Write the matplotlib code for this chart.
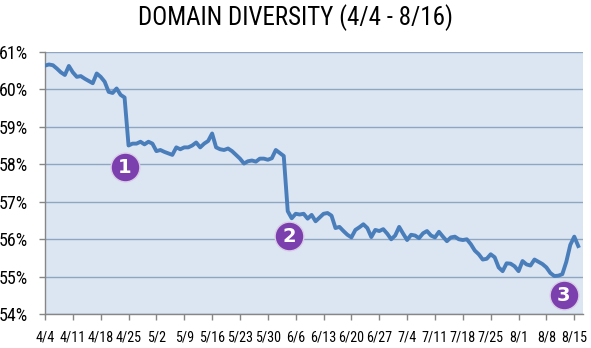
import matplotlib
matplotlib.use("Agg")
import matplotlib.pyplot as plt
from matplotlib import font_manager

# pick a narrow font if one is there
names = {f.name for f in font_manager.fontManager.ttflist}
font = "DejaVu Sans"
for cand in ["Liberation Sans Narrow", "DejaVu Sans Condensed", "Roboto Condensed"]:
    if cand in names:
        font = cand
        break
plt.rcParams["font.family"] = [font, "DejaVu Sans"]

title = "DOMAIN DIVERSITY (4/4 - 8/16)"

# daily share (%), 4/4 .. 8/16
diversity = [
    60.63, 60.66, 60.64, 60.55, 60.45, 60.38, 60.62, 60.45, 60.33, 60.35,
    60.28, 60.22, 60.16, 60.42, 60.33, 60.20, 59.93, 59.90, 60.02, 59.85,
    59.78, 58.50, 58.55, 58.55, 58.60, 58.53, 58.60, 58.55, 58.35, 58.38,
    58.33, 58.29, 58.25, 58.45, 58.40, 58.45, 58.45, 58.50, 58.58, 58.45,
    58.55, 58.62, 58.82, 58.45, 58.40, 58.38, 58.42, 58.35, 58.25, 58.15,
    58.02, 58.08, 58.10, 58.07, 58.15, 58.15, 58.12, 58.16, 58.38, 58.30,
    58.22, 56.75, 56.56, 56.68, 56.66, 56.68, 56.55, 56.65, 56.48, 56.58,
    56.68, 56.70, 56.63, 56.30, 56.33, 56.22, 56.12, 56.05, 56.25, 56.32,
    56.40, 56.30, 56.06, 56.25, 56.22, 56.27, 56.15, 56.00, 56.10, 56.33,
    56.15, 55.98, 56.12, 56.10, 56.03, 56.16, 56.22, 56.10, 56.05, 56.20,
    56.07, 55.95, 56.05, 56.07, 56.00, 55.98, 56.00, 55.87, 55.70, 55.60,
    55.46, 55.48, 55.60, 55.52, 55.25, 55.15, 55.36, 55.35, 55.28, 55.15,
    55.42, 55.33, 55.30, 55.46, 55.40, 55.34, 55.25, 55.10, 55.02, 55.03,
    55.07, 55.40, 55.85, 56.07, 55.82,
]
days = list(range(len(diversity)))

xtick_labels = ["4/4", "4/11", "4/18", "4/25", "5/2", "5/9", "5/16", "5/23",
                "5/30", "6/6", "6/13", "6/20", "6/27", "7/4", "7/11", "7/18",
                "7/25", "8/1", "8/8", "8/15"]
yticks = [54, 55, 56, 57, 58, 59, 60, 61]

# numbered callouts: (day, value, label)
markers_day = [20, 61.3, 130.3]
markers_val = [57.93, 56.1, 54.52]
markers_txt = ["1", "2", "3"]

fig = plt.figure(figsize=(5.91, 3.48), dpi=100)
ax = fig.add_axes([0.0761, 0.0968, 0.9104, 0.7546])
ax.set_facecolor("#dce6f2")

for y in yticks:
    ax.axhline(y, color="#8fa5c0", lw=1.0, zorder=1)

ax.plot(days, diversity, color="#4a7ebb", lw=2.8, zorder=3,
        solid_joinstyle="round")

ax.scatter(markers_day, markers_val, s=430, color="#7c3fae",
           edgecolors="#d9cce6", linewidths=1.0, zorder=4, clip_on=False)
for d, v, t in zip(markers_day, markers_val, markers_txt):
    ax.text(d, v - 0.02, t, color="white", fontsize=14, fontweight="bold",
            ha="center", va="center", zorder=5, family="DejaVu Sans")

ax.set_xlim(0, 135.2)
ax.set_ylim(54, 61)
ax.set_xticks(range(0, 7 * len(xtick_labels), 7))
ax.set_xticklabels(xtick_labels)
ax.set_yticks(yticks)
ax.set_yticklabels([f"{y}%" for y in yticks])

for s in ["top", "right"]:
    ax.spines[s].set_visible(False)
for s in ["left", "bottom"]:
    ax.spines[s].set_color("#868686")
    ax.spines[s].set_linewidth(1.0)
ax.tick_params(axis="both", colors="#868686", labelcolor="black",
               length=4, width=1.0)
ax.tick_params(axis="y", labelsize=13, pad=8)
ax.tick_params(axis="x", labelsize=10.2, pad=8)

fig.text(0.5, 0.95, title, ha="center", va="center", fontsize=18)

fig.savefig("out.png", dpi=100)
